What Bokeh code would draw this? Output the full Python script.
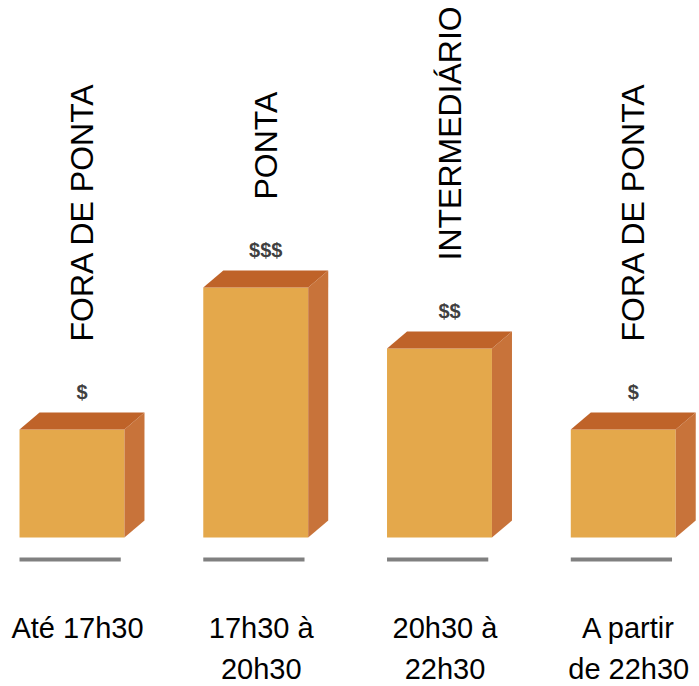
from math import pi
from bokeh.plotting import figure
from bokeh.models import Range1d
from bokeh.core.properties import value
from bokeh.embed import file_html
from bokeh.resources import INLINE

# --- data ---
categorias = ["Até 17h30", "17h30 à\n20h30", "20h30 à\n22h30", "A partir\nde 22h30"]
postos = ["FORA DE PONTA", "PONTA", "INTERMEDIÁRIO", "FORA DE PONTA"]
custo = ["$", "$$$", "$$", "$"]
altura = [108, 250, 189, 108]

# --- style / geometry ---
W = 0.571      # front face width (x units)
DX = 0.109     # depth offset in x
DY = 17        # depth offset in y
FRONT = "#E4A84B"
SIDE = "#C8733A"
TOP = "#BF6329"
FONT = "Liberation Sans"

xs = list(range(len(altura)))

p = figure(width=699, height=686,
           x_range=Range1d(-0.389, 3.415), y_range=Range1d(-149, 537),
           output_backend="svg", toolbar_location=None, min_border=0)
p.axis.visible = False
p.grid.visible = False
p.outline_line_color = None
p.background_fill_color = "white"

# front faces
p.vbar(x=xs, top=altura, bottom=0, width=W, fill_color=FRONT, line_color=None)

# side faces
side_x = [[i + W / 2, i + W / 2 + DX, i + W / 2 + DX, i + W / 2] for i in xs]
side_y = [[0, DY, h + DY, h] for h in altura]
p.patches(side_x, side_y, fill_color=SIDE, line_color=None)

# top faces
top_x = [[i - W / 2, i - W / 2 + DX, i + W / 2 + DX, i + W / 2] for i in xs]
top_y = [[h, h + DY, h + DY, h] for h in altura]
p.patches(top_x, top_y, fill_color=TOP, line_color=None)

# gray base lines
p.segment(x0=[i - W / 2 for i in xs], x1=[i + W / 2 - 0.02 for i in xs],
          y0=[-22] * len(xs), y1=[-22] * len(xs), line_width=4, line_color="#808080")

# cost labels
p.text(x=[i + DX / 2 for i in xs], y=[h + DY + 21 for h in altura], text=custo,
       text_align="center", text_baseline="middle", text_font=value(FONT),
       text_font_size="20px", text_font_style="bold", text_color="#404040")

# vertical period labels
p.text(x=[i + DX / 2 for i in xs], y=[h + DY + 71 for h in altura], text=postos,
       angle=pi / 2, text_align="left", text_baseline="middle", text_font=value(FONT),
       text_font_size="32px", text_color="black")

# category labels
p.text(x=[i + 0.03 for i in xs], y=[-74] * len(xs), text=categorias,
       text_align="center", text_baseline="top", text_line_height=1.3,
       text_font=value(FONT), text_font_size="29px", text_color="black")

open("out.html", "w").write(file_html(p, INLINE))
